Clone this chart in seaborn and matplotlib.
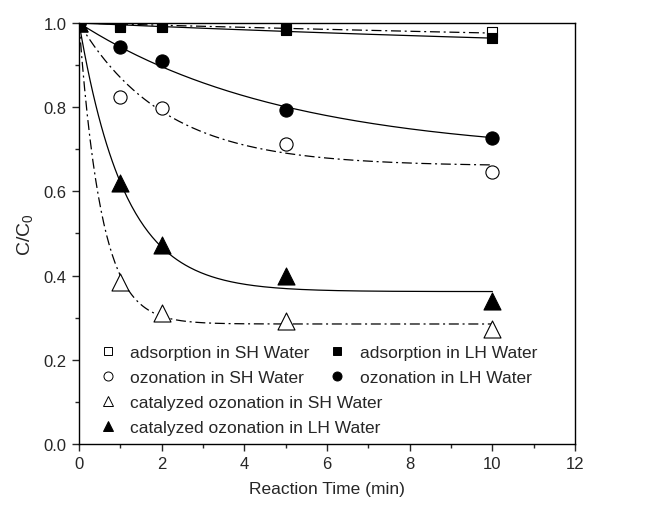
import numpy as np
import pandas as pd
import matplotlib
matplotlib.use("Agg")
import matplotlib.pyplot as plt
import seaborn as sns
from matplotlib.lines import Line2D
from matplotlib.ticker import MultipleLocator

# ---- data ----
time_min = [0, 1, 2, 5, 10]
ads_sh = [1.0, 0.990, 0.990, 0.985, 0.978]
ads_lh = [1.0, 0.994, 0.993, 0.983, 0.964]
oz_sh = [1.0, 0.825, 0.797, 0.712, 0.646]
oz_lh = [1.0, 0.944, 0.910, 0.794, 0.726]
cat_sh = [1.0, 0.385, 0.312, 0.292, 0.272]
cat_lh = [1.0, 0.620, 0.472, 0.400, 0.340]

series_labels = [
    "adsorption in SH Water",
    "adsorption in LH Water",
    "ozonation in SH Water",
    "ozonation in LH Water",
    "catalyzed ozonation in SH Water",
    "catalyzed ozonation in LH Water",
]
series_values = [ads_sh, ads_lh, oz_sh, oz_lh, cat_sh, cat_lh]

# first-order kinetic fit curves shown in the chart:
# C/C0 = plateau + (1 - plateau) * exp(-rate * t), parameters
fit_plateau = [0.90, 0.90, 0.66, 0.685, 0.285, 0.362]
fit_rate = [0.0274, 0.0446, 0.48, 0.20, 1.83, 0.90]

x_ticks = [0, 2, 4, 6, 8, 10, 12]
y_ticks = [0.0, 0.2, 0.4, 0.6, 0.8, 1.0]

# ---- styles ----
markers = ["s", "s", "o", "o", "^", "^"]
filled = [False, True, False, True, False, True]
sizes = [62, 62, 90, 90, 150, 150]
dashdot = (0, (8, 3, 1.6, 3))
linestyles = [dashdot, "-", dashdot, "-", dashdot, "-"]

sns.set_style("ticks")
plt.rcParams["font.family"] = ["Liberation Sans", "DejaVu Sans"]
plt.rcParams["mathtext.default"] = "regular"

fig = plt.figure(figsize=(6.56, 5.06), dpi=100)
ax = fig.add_axes([0.1205, 0.1206, 0.7561, 0.832])

t_fit = np.linspace(0, 10, 300)
for i in range(6):
    curve = fit_plateau[i] + (1 - fit_plateau[i]) * np.exp(-fit_rate[i] * t_fit)
    df_c = pd.DataFrame({"t": t_fit, "c": curve})
    sns.lineplot(data=df_c, x="t", y="c", ax=ax, color="black",
                 linewidth=0.9, linestyle=linestyles[i], zorder=2)

for i in range(6):
    df_p = pd.DataFrame({"t": time_min, "c": series_values[i]})
    sns.scatterplot(data=df_p, x="t", y="c", ax=ax, marker=markers[i], s=sizes[i],
                    color=("black" if filled[i] else "white"), edgecolor="black",
                    linewidth=0.8, zorder=3 + i)

ax.set_xlim(0, 12)
ax.set_ylim(0, 1.0)
ax.set_xticks(x_ticks)
ax.set_yticks(y_ticks)
ax.set_xticklabels([str(v) for v in x_ticks])
ax.set_yticklabels([f"{v:.1f}" for v in y_ticks])
ax.xaxis.set_minor_locator(MultipleLocator(1))
ax.yaxis.set_minor_locator(MultipleLocator(0.1))
ax.tick_params(which="major", direction="out", length=5, width=1.0,
               labelsize=12, pad=4, top=False, right=False)
ax.tick_params(which="minor", direction="out", length=3, width=1.0,
               top=False, right=False)
for sp in ax.spines.values():
    sp.set_visible(True)
    sp.set_linewidth(1.0)
    sp.set_color("black")

ax.set_xlabel("Reaction Time (min)", fontsize=12.5, labelpad=7)
ax.set_ylabel("C/C$_0$", fontsize=14, labelpad=6)

def handle(i):
    return Line2D([], [], linestyle="none", marker=markers[i],
                  markersize=[5.5, 5.5, 6.5, 6.5, 7.5, 7.5][i],
                  markerfacecolor=("black" if filled[i] else "white"),
                  markeredgecolor="black", markeredgewidth=0.7)

leg_kw = dict(frameon=False, fontsize=12.5, handlelength=1.0, handletextpad=0.8,
              labelspacing=0.57, borderpad=0, borderaxespad=0, loc="upper left")
idx1 = [0, 2, 4, 5]
leg1 = ax.legend([handle(i) for i in idx1], [series_labels[i] for i in idx1],
                 bbox_to_anchor=(0.040, 0.2355), **leg_kw)
ax.add_artist(leg1)
idx2 = [1, 3]
ax.legend([handle(i) for i in idx2], [series_labels[i] for i in idx2],
          bbox_to_anchor=(0.503, 0.2355), **leg_kw)

fig.savefig("out.png", dpi=100)
